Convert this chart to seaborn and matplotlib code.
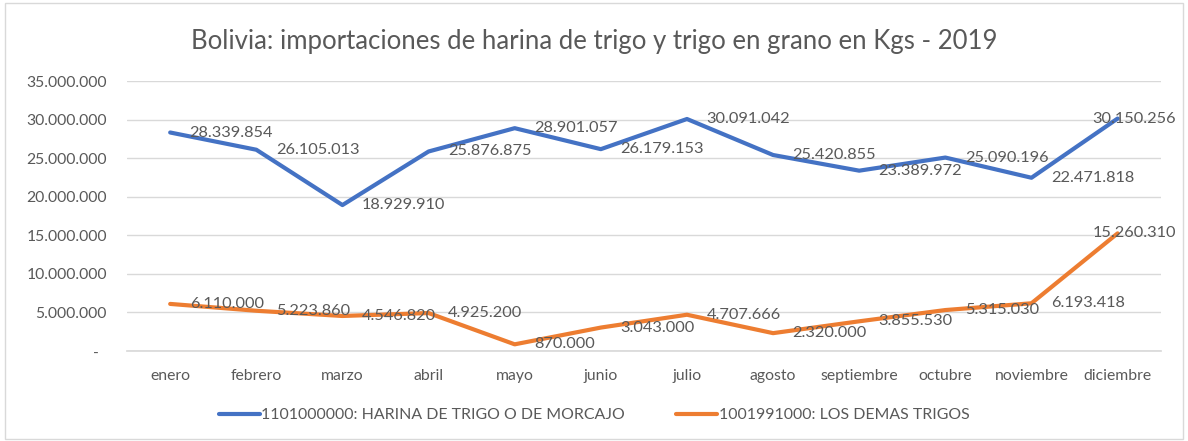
import matplotlib
matplotlib.use("Agg")
import matplotlib.pyplot as plt
import matplotlib.ticker as mticker
from matplotlib.patches import Rectangle
import pandas as pd
import seaborn as sns

# ── Data ────────────────────────────────────────────
meses = ["enero", "febrero", "marzo", "abril", "mayo", "junio", "julio",
         "agosto", "septiembre", "octubre", "noviembre", "diciembre"]
harina = [28339854, 26105013, 18929910, 25876875, 28901057, 26179153,
          30091042, 25420855, 23389972, 25090196, 22471818, 30150256]
trigos = [6110000, 5223860, 4546820, 4925200, 870000, 3043000,
          4707666, 2320000, 3855530, 5315030, 6193418, 15260310]
serie_harina = "1101000000: HARINA DE TRIGO O DE MORCAJO"
serie_trigos = "1001991000: LOS DEMAS TRIGOS"

df = pd.concat([
    pd.DataFrame({"mes": meses, "kgs": harina, "serie": serie_harina}),
    pd.DataFrame({"mes": meses, "kgs": trigos, "serie": serie_trigos}),
])

TEXT = "#595959"
GRID = "#D9D9D9"
palette = {serie_harina: "#4472C4", serie_trigos: "#ED7D31"}

sns.set_theme(style="white")
plt.rcParams["font.family"] = ["Lato", "DejaVu Sans"]


def fmt_miles(v, _pos=None):
    if abs(v) < 0.5:
        return "-  "
    return f"{v:,.0f}".replace(",", ".")


fig = plt.figure(figsize=(11.88, 4.41), dpi=100)
ax = fig.add_axes([0.107, 0.204, 0.870, 0.612])

sns.lineplot(data=df, x="mes", y="kgs", hue="serie", palette=palette,
             sort=False, linewidth=3.0, ax=ax, legend=False)

# data labels, to the right of each point
for serie, vals in ((serie_harina, harina), (serie_trigos, trigos)):
    for i, v in enumerate(vals):
        dx = 14 if i < len(vals) - 1 else -18
        ax.annotate(fmt_miles(v), (i, v), xytext=(dx, 0),
                    textcoords="offset points", ha="left", va="center",
                    fontsize=11.8, color=TEXT)

ax.set_xlim(-0.5, len(meses) - 0.5)
ax.set_ylim(0, 35_000_000)
ax.yaxis.set_major_locator(mticker.MultipleLocator(5_000_000))
ax.yaxis.set_major_formatter(mticker.FuncFormatter(fmt_miles))
ax.grid(axis="y", color=GRID, linewidth=1)
ax.set_axisbelow(True)
for side in ("top", "right", "left"):
    ax.spines[side].set_visible(False)
ax.spines["bottom"].set_color(GRID)
ax.tick_params(axis="both", length=0, colors=TEXT, labelsize=11.3)
ax.tick_params(axis="x", pad=13)
ax.tick_params(axis="y", pad=14.5)
ax.set_xlabel("")
ax.set_ylabel("")

fig.suptitle("Bolivia: importaciones de harina de trigo y trigo en grano en Kgs - 2019",
             x=0.5, y=0.935, fontsize=18.5, color=TEXT)

handles = [plt.Line2D([], [], color=palette[s], linewidth=3.0)
           for s in (serie_harina, serie_trigos)]
fig.legend(handles, [serie_harina, serie_trigos], loc="center",
           bbox_to_anchor=(0.5, 0.058), ncol=2, frameon=False,
           fontsize=11.4, labelcolor=TEXT, handlelength=2.6,
           handletextpad=0.1, columnspacing=3.2)

fig.patches.append(Rectangle((0.004, 0.004), 0.992, 0.99, transform=fig.transFigure,
                             fill=False, edgecolor=GRID, linewidth=1))

fig.savefig("out.png", dpi=100, facecolor="white")
